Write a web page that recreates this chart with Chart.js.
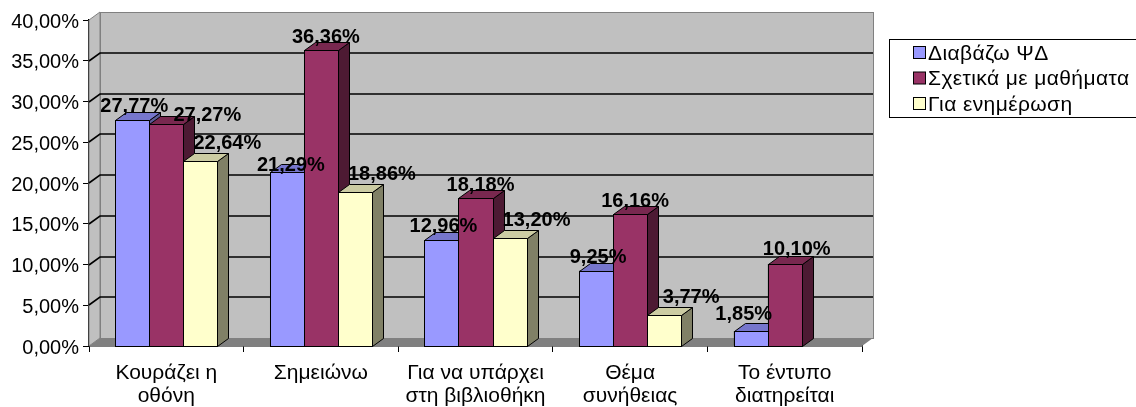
<!DOCTYPE html>
<html>
<head>
<meta charset="utf-8">
<script src="https://cdn.jsdelivr.net/npm/chart.js@4/dist/chart.umd.min.js"></script>
<style>
  html, body { margin: 0; padding: 0; background: #fff; }
  canvas { display: block; }
</style>
</head>
<body>
<canvas id="chart" width="1136" height="407"></canvas>
<script>
/* DATA */
const categories = [['Κουράζει η', 'οθόνη'], 'Σημειώνω', ['Για να υπάρχει', 'στη βιβλιοθήκη'], ['Θέμα', 'συνήθειας'], ['Το έντυπο', 'διατηρείται']]
const seriesNames = ['Διαβάζω ΨΔ', 'Σχετικά με μαθήματα', 'Για ενημέρωση']
const readPD = [27.77, 21.29, 12.96, 9.25, 1.85]
const forCourses = [27.27, 36.36, 18.18, 16.16, 10.10]
const forNews = [22.64, 18.86, 13.20, 3.77, null]
const yMax = 40
const yStep = 5

/* STYLE */
const FONT = "'Liberation Sans', Arial, sans-serif"
const FRONT = ['#9999FF', '#993366', '#FFFFCC']
const TOP = ['#7676CC', '#78284F', '#CCCCA3']
const SIDE = ['#5C5C99', '#4D1A33', '#808066']
const WALL = '#C0C0C0'
const FLOOR = '#808080'
const DX = 11
const DY = 8
// label placement relative to the bar top: [x, y] per series, then a few point nudges
const labelShift = [[2, -8], [5, -7], [27, -12]]
const labelNudge = { '1-0': [36, 4], '0-1': [2, 7], '0-4': [-9, -3], '1-4': [7, -2] }

const fmt = v => v.toFixed(2).replace('.', ',') + '%'

// back wall, side wall, floor and gridlines
const wallPlugin = {
  id: 'wall',
  beforeDatasetsDraw(chart) {
    const { ctx, chartArea: a, scales } = chart
    const y = scales.y
    ctx.save()
    ctx.fillStyle = WALL
    ctx.strokeStyle = FLOOR
    ctx.lineWidth = 1
    ctx.beginPath()
    ctx.moveTo(a.left, a.top)
    ctx.lineTo(a.left + DX, a.top - DY)
    ctx.lineTo(a.left + DX, a.bottom - DY)
    ctx.lineTo(a.left, a.bottom)
    ctx.closePath()
    ctx.fill()
    ctx.stroke()
    ctx.fillRect(a.left + DX, a.top - DY, a.right - a.left, a.bottom - a.top)
    ctx.strokeRect(a.left + DX + 0.5, a.top - DY + 0.5, a.right - a.left, a.bottom - a.top)
    ctx.fillStyle = FLOOR
    ctx.beginPath()
    ctx.moveTo(a.left, a.bottom)
    ctx.lineTo(a.left + DX, a.bottom - DY)
    ctx.lineTo(a.right + DX, a.bottom - DY)
    ctx.lineTo(a.right, a.bottom)
    ctx.closePath()
    ctx.fill()
    ctx.strokeStyle = '#000'
    ctx.lineWidth = 1.6
    for (let v = yStep; v < yMax; v += yStep) {
      const py = Math.round(y.getPixelForValue(v))
      ctx.beginPath()
      ctx.moveTo(a.left, py)
      ctx.lineTo(a.left + DX, py - DY)
      ctx.lineTo(a.right + DX, py - DY)
      ctx.stroke()
    }
    ctx.restore()
  }
}

// 3D faces of the bars and value labels
const barsPlugin = {
  id: 'bars3d',
  afterDatasetsDraw(chart) {
    const { ctx } = chart
    const metas = chart.data.datasets.map((d, i) => chart.getDatasetMeta(i))
    ctx.save()
    ctx.lineWidth = 1
    ctx.strokeStyle = '#000'
    for (let c = 0; c < categories.length; c++) {
      metas.forEach((meta, s) => {
        const value = chart.data.datasets[s].data[c]
        if (value == null) return
        const bar = meta.data[c]
        const l = Math.round(bar.x - bar.width / 2) + 0.5
        const r = Math.round(bar.x + bar.width / 2) + 0.5
        const t = Math.round(bar.y) + 0.5
        const b = Math.round(bar.base) + 0.5
        ctx.fillStyle = FRONT[s]
        ctx.fillRect(l, t, r - l, b - t)
        ctx.strokeRect(l, t, r - l, b - t)
        ctx.fillStyle = SIDE[s]
        ctx.beginPath()
        ctx.moveTo(r, t)
        ctx.lineTo(r + DX, t - DY)
        ctx.lineTo(r + DX, b - DY)
        ctx.lineTo(r, b)
        ctx.closePath()
        ctx.fill()
        ctx.stroke()
        ctx.fillStyle = TOP[s]
        ctx.beginPath()
        ctx.moveTo(l, t)
        ctx.lineTo(l + DX, t - DY)
        ctx.lineTo(r + DX, t - DY)
        ctx.lineTo(r, t)
        ctx.closePath()
        ctx.fill()
        ctx.stroke()
      })
    }
    ctx.fillStyle = '#000'
    ctx.font = 'bold 20px ' + FONT
    ctx.textAlign = 'center'
    ctx.textBaseline = 'alphabetic'
    metas.forEach((meta, s) => {
      chart.data.datasets[s].data.forEach((value, c) => {
        if (value == null) return
        const bar = meta.data[c]
        const n = labelNudge[s + '-' + c] || [0, 0]
        ctx.fillText(fmt(value), bar.x + labelShift[s][0] + n[0], bar.y + labelShift[s][1] + n[1])
      })
    })
    ctx.restore()
  }
}

// boxed legend on the right
const legendPlugin = {
  id: 'boxLegend',
  afterDraw(chart) {
    const { ctx } = chart
    ctx.save()
    ctx.strokeStyle = '#000'
    ctx.lineWidth = 1
    ctx.strokeRect(889.5, 39.5, 260, 78)
    ctx.font = '21px ' + FONT
    ctx.letterSpacing = '0.4px'
    ctx.textBaseline = 'middle'
    ctx.textAlign = 'left'
    chart.data.datasets.forEach((ds, i) => {
      const cy = 53 + i * 25.5
      ctx.fillStyle = ds.backgroundColor
      ctx.fillRect(913.5, cy - 6.5, 12, 12)
      ctx.strokeRect(913.5, cy - 6.5, 12, 12)
      ctx.fillStyle = '#000'
      ctx.fillText(ds.label, 928, cy + 1)
    })
    ctx.restore()
  }
}

const series = [readPD, forCourses, forNews]

new Chart(document.getElementById('chart'), {
  type: 'bar',
  data: {
    labels: categories,
    datasets: series.map((data, i) => ({
      label: seriesNames[i],
      data: data,
      backgroundColor: FRONT[i],
      borderColor: '#000',
      borderWidth: 1,
      categoryPercentage: 0.66,
      barPercentage: 1
    }))
  },
  options: {
    responsive: false,
    animation: false,
    devicePixelRatio: 1,
    layout: { padding: { top: 20, right: 274, left: 0, bottom: 0 } },
    plugins: {
      legend: { display: false },
      tooltip: { enabled: false }
    },
    scales: {
      y: {
        min: 0,
        max: yMax,
        afterFit: s => { s.width = 89 },
        ticks: {
          stepSize: yStep,
          callback: v => fmt(v),
          color: '#000',
          padding: 4,
          labelOffset: 2,
          font: { family: FONT, size: 20 }
        },
        grid: { drawOnChartArea: false, color: '#000', tickLength: 6, tickColor: '#000' },
        border: { color: '#000', width: 1.5 }
      },
      x: {
        afterFit: s => { s.height = 61 },
        ticks: {
          color: '#000',
          padding: 10,
          font: { family: FONT, size: 21, lineHeight: 1.1 }
        },
        grid: { drawOnChartArea: false, offset: true, color: '#000', tickLength: 6, tickColor: '#000' },
        border: { color: '#000', width: 1.5 }
      }
    }
  },
  plugins: [wallPlugin, barsPlugin, legendPlugin]
})
</script>
</body>
</html>
